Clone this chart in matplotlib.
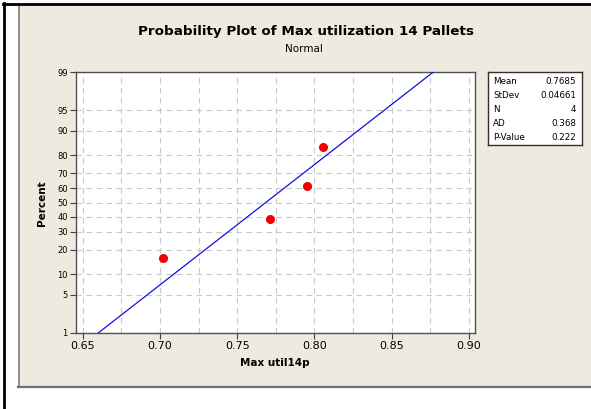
import numpy as np
import matplotlib
matplotlib.use("Agg")
import matplotlib.pyplot as plt
from matplotlib.patches import Rectangle
from matplotlib.ticker import FixedLocator, MultipleLocator
from statistics import NormalDist

# ---- data ----
values = [0.7020, 0.7710, 0.7955, 0.8055]
stat_labels = ["Mean", "StDev", "N", "AD", "P-Value"]
stat_values = ["0.7685", "0.04661", "4", "0.368", "0.222"]
fit_mean = 0.7685
fit_sd = 0.04661
x_ticks = [0.65, 0.70, 0.75, 0.80, 0.85, 0.90]
y_ticks = [1, 5, 10, 20, 30, 40, 50, 60, 70, 80, 90, 95, 99]

W, H = 591, 409
fig = plt.figure(figsize=(W / 100, H / 100), dpi=100)
fig.patch.set_facecolor("white")

def fx(px):
    return px / W

def fy(py):
    return 1 - py / H

# background frame
beige = "#EEEAE0"
fig.add_artist(Rectangle((fx(18), fy(387)), fx(W - 18), (387 - 4) / H,
                         transform=fig.transFigure, facecolor=beige,
                         edgecolor="none", zorder=-10))
fig.add_artist(plt.Line2D([fx(18.5), fx(18.5)], [fy(4), fy(387)], transform=fig.transFigure,
                          color="#808080", lw=1.2, zorder=-5))
fig.add_artist(plt.Line2D([fx(18), fx(W)], [fy(386.5), fy(386.5)], transform=fig.transFigure,
                          color="#707070", lw=1.6, zorder=-5))
fig.add_artist(plt.Line2D([fx(4), fx(4)], [fy(2.5), fy(H)], transform=fig.transFigure,
                          color="black", lw=2.0, zorder=-5))
fig.add_artist(plt.Line2D([fx(3), fx(W)], [fy(3.5), fy(3.5)], transform=fig.transFigure,
                          color="black", lw=2.0, zorder=-5))

nd = NormalDist()
_ppf = np.vectorize(lambda v: nd.inv_cdf(v / 100.0), otypes=[float])
_cdf = np.vectorize(lambda v: nd.cdf(v) * 100.0, otypes=[float])

def fwd(p):
    p = np.clip(np.asarray(p, dtype=float), 1e-6, 100 - 1e-6)
    return _ppf(p)

def inv(z):
    return _cdf(np.asarray(z, dtype=float))

ax = fig.add_axes([fx(76), fy(333), fx(475) - fx(76), fy(72) - fy(333)])
ax.set_zorder(2)
ax.set_facecolor("white")
ax.set_yscale("function", functions=(fwd, inv))
ax.set_xlim(0.6457, 0.9039)
ax.set_ylim(1, 99)

# fitted line
n = len(values)
zz = np.linspace(nd.inv_cdf(0.01), nd.inv_cdf(0.99), 50)
xline = fit_mean + fit_sd * zz
yline = inv(zz)
ax.plot(xline, yline, color="#1010E0", lw=0.9, zorder=3)

# points (median ranks)
xs = np.sort(values)
ranks = (np.arange(1, n + 1) - 0.3) / (n + 0.4) * 100
ax.plot(xs, ranks, "o", color="#F00000", markersize=5.5, zorder=4)

# ticks & grid
ax.xaxis.set_major_locator(FixedLocator(x_ticks))
ax.xaxis.set_minor_locator(MultipleLocator(0.025))
ax.set_xticklabels([f"{t:.2f}" for t in x_ticks], fontsize=8)
ax.yaxis.set_major_locator(FixedLocator(y_ticks))
ax.yaxis.set_minor_locator(FixedLocator([]))
ax.set_yticklabels([str(t) for t in y_ticks], fontsize=6)
ax.tick_params(axis="x", which="major", length=4, width=0.8, color="#404040", pad=2)
ax.tick_params(axis="x", which="minor", length=0)
ax.tick_params(axis="y", which="major", length=4, width=0.8, color="#404040", pad=2)
gridkw = dict(color="#C8C8C8", linestyle=(0, (5, 4)), lw=0.8)
ax.grid(True, axis="x", which="both", **gridkw)
ax.grid(True, axis="y", which="major", **gridkw)
ax.set_axisbelow(True)
for s in ax.spines.values():
    s.set_color("#505050")
    s.set_linewidth(1.0)

# labels
fig.text(fx(305.5), fy(32), "Probability Plot of Max utilization 14 Pallets",
         ha="center", va="center", fontsize=9.7, fontweight="bold")
fig.text(fx(304), fy(49), "Normal", ha="center", va="center", fontsize=7.5)
fig.text(fx(42), fy(203), "Percent", ha="center", va="center", rotation=90,
         fontsize=7.5, fontweight="bold")
fig.text(fx(275), fy(363), "Max util14p", ha="center", va="center",
         fontsize=7.5, fontweight="bold")

# stats box
bx = fig.add_axes([fx(488), fy(145), fx(582) - fx(488), fy(72) - fy(145)])
bx.set_zorder(2)
bx.set_xticks([])
bx.set_yticks([])
bx.set_facecolor("white")
for s in bx.spines.values():
    s.set_color("#303030")
    s.set_linewidth(1.0)
rows_y = [81, 95.5, 109.3, 123.3, 137]
for lab, val, ry in zip(stat_labels, stat_values, rows_y):
    fig.text(fx(493), fy(ry), lab, ha="left", va="center", fontsize=6.3, zorder=5)
    fig.text(fx(576), fy(ry), val, ha="right", va="center", fontsize=6.3, zorder=5)

fig.savefig("out.png", dpi=100)
